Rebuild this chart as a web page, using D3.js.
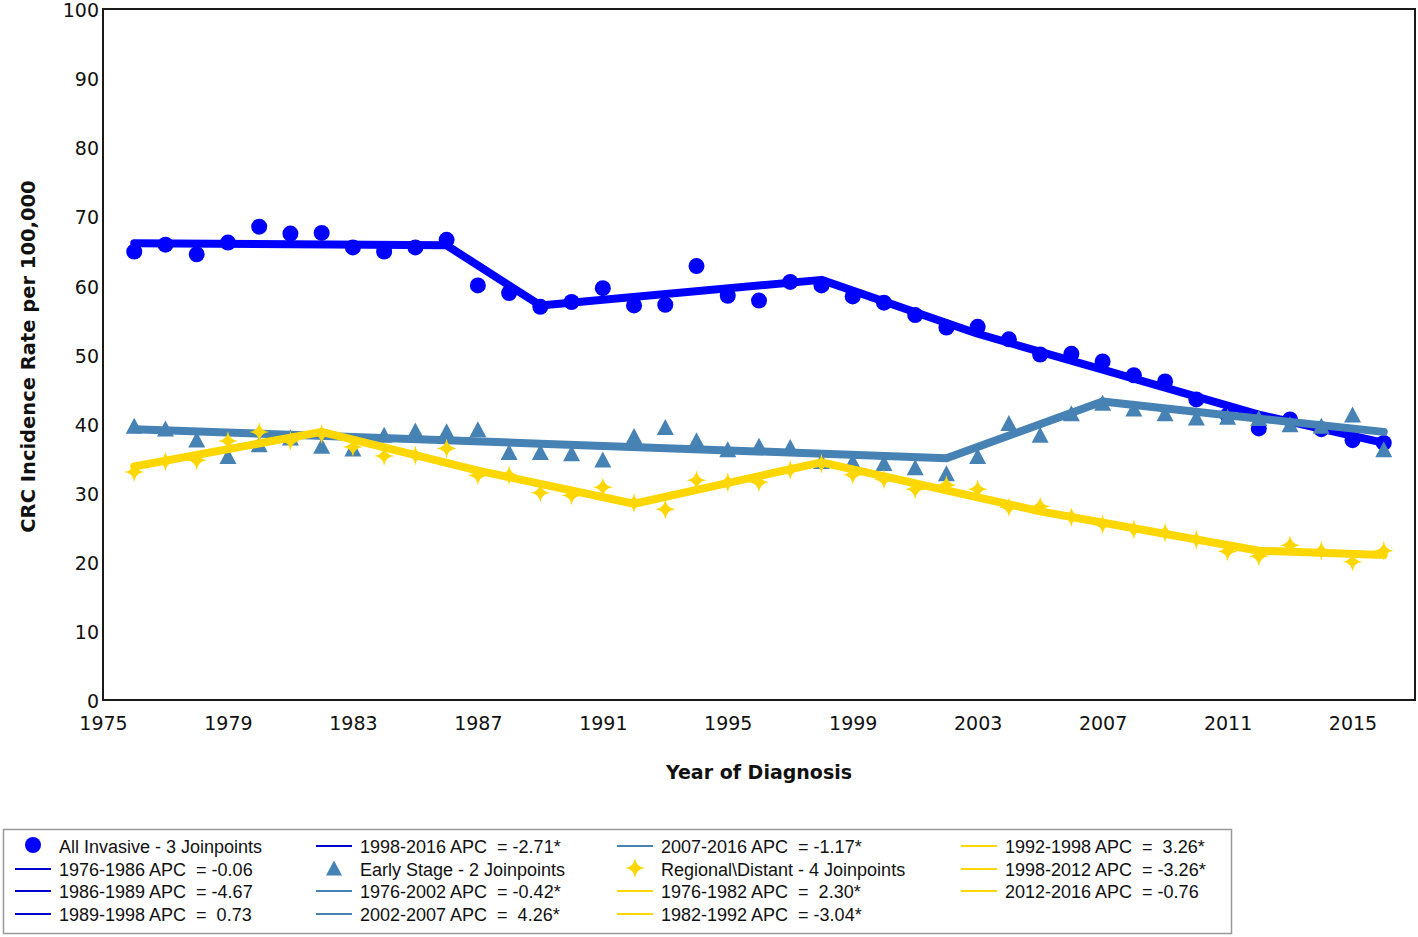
<!DOCTYPE html>
<html>
<head>
<meta charset="utf-8">
<script src="https://cdn.jsdelivr.net/npm/d3@7"></script>
<style>
  html, body { margin: 0; padding: 0; background: #fff; }
  svg { display: block; }
  text { white-space: pre; }
</style>
</head>
<body>
<svg id="chart" width="1418" height="937"></svg>
<script>
// ---------------- DATA ----------------
const years = [1976,1977,1978,1979,1980,1981,1982,1983,1984,1985,1986,1987,1988,1989,1990,1991,1992,1993,1994,1995,1996,1997,1998,1999,2000,2001,2002,2003,2004,2005,2006,2007,2008,2009,2010,2011,2012,2013,2014,2015,2016];

const allInvasive = [64.9,65.9,64.5,66.2,68.5,67.5,67.6,65.5,64.9,65.5,66.6,60.0,58.9,56.9,57.6,59.6,57.1,57.2,62.8,58.5,57.8,60.5,60.0,58.4,57.5,55.7,53.9,54.0,52.2,50.0,50.1,49.0,47.0,46.1,43.5,41.2,39.3,40.6,39.2,37.6,37.2];
const earlyStage = [39.7,39.3,37.7,35.3,37.0,38.0,36.8,36.4,38.4,39.0,38.9,39.2,35.9,35.9,35.7,34.8,38.2,39.5,37.6,36.3,36.8,36.6,34.6,34.5,34.3,33.7,32.8,35.3,40.1,38.4,41.5,43.0,42.2,41.5,40.9,41.0,40.8,39.9,39.7,41.3,36.3];
const regionalDistant = [33.0,34.5,34.7,37.5,38.8,37.5,38.5,36.6,35.3,35.4,36.4,32.5,32.5,30.0,29.6,30.8,28.5,27.6,31.8,31.5,31.5,33.3,34.2,32.6,31.9,30.5,31.1,30.5,27.9,28.0,26.5,25.4,24.7,24.2,23.2,21.5,20.8,22.4,21.6,20.0,21.6];

// Joinpoint fitted values (knots)
const fitAllYears  = [1976,1986,1989,1998,2003,2007,2012,2016];
const fitAllValues = [66.1,65.8,57.1,60.8,53.0,47.8,41.3,37.2];
const fitEarlyYears  = [1976,1989,2002,2007,2011,2016];
const fitEarlyValues = [39.2,37.1,35.0,43.2,41.2,38.8];
const fitRegYears  = [1976,1982,1987,1992,1998,2005,2012,2016];
const fitRegValues = [33.8,38.8,33.2,28.4,34.4,27.3,21.6,21.0];

const xTicks = [1975,1979,1983,1987,1991,1995,1999,2003,2007,2011,2015];
const yTicks = [0,10,20,30,40,50,60,70,80,90,100];

const xTitle = "Year of Diagnosis";
const yTitle = "CRC Incidence Rate per 100,000";

// legend entries: [type, series, label], column-major, 4 rows per column
const legendItems = [
  ["circle","all","All Invasive - 3 Joinpoints"],
  ["line","allLine","1976-1986 APC  = -0.06"],
  ["line","allLine","1986-1989 APC  = -4.67"],
  ["line","allLine","1989-1998 APC  =  0.73"],
  ["line","allLine","1998-2016 APC  = -2.71*"],
  ["triangle","early","Early Stage - 2 Joinpoints"],
  ["line","early","1976-2002 APC  = -0.42*"],
  ["line","early","2002-2007 APC  =  4.26*"],
  ["line","early","2007-2016 APC  = -1.17*"],
  ["star","reg","Regional\\Distant - 4 Joinpoints"],
  ["line","reg","1976-1982 APC  =  2.30*"],
  ["line","reg","1982-1992 APC  = -3.04*"],
  ["line","reg","1992-1998 APC  =  3.26*"],
  ["line","reg","1998-2012 APC  = -3.26*"],
  ["line","reg","2012-2016 APC  = -0.76"]
];

// ---------------- STYLE ----------------
const colors = { all: "#0000FF", allLine: "#0000CD", early: "#4682B4", reg: "#FFD700" };
const plot = { left: 103, right: 1415, top: 9, bottom: 700 };

const svg = d3.select("#chart");
const x = d3.scaleLinear().domain([1975, 2017]).range([plot.left, plot.right]);
const y = d3.scaleLinear().domain([0, 100]).range([plot.bottom, plot.top]);

const tickFont = "'DejaVu Sans', Verdana, sans-serif";

// axes
const xAxis = d3.axisBottom(x).tickValues(xTicks).tickFormat(d3.format("d")).tickSize(0).tickPadding(17);
const gx = svg.append("g").attr("transform", `translate(0,${plot.bottom})`).call(xAxis);
gx.select(".domain").remove();
gx.selectAll("text").attr("font-family", tickFont).attr("font-size", 19).attr("fill", "#111")
  .attr("transform", "scale(1,1)");

const yAxis = d3.axisLeft(y).tickValues(yTicks).tickSize(0).tickPadding(4);
const gy = svg.append("g").attr("transform", `translate(${plot.left},0)`).call(yAxis);
gy.select(".domain").remove();
gy.selectAll("text").attr("font-family", tickFont).attr("font-size", 19).attr("fill", "#111")
  .attr("dy", "0.4em");

// frame
svg.append("rect")
  .attr("x", plot.left).attr("y", plot.top)
  .attr("width", plot.right - plot.left).attr("height", plot.bottom - plot.top)
  .attr("fill", "none").attr("stroke", "#1a1a1a").attr("stroke-width", 2);

// titles
svg.append("text").attr("x", 759).attr("y", 779).attr("text-anchor", "middle")
  .attr("font-family", tickFont).attr("font-weight", "bold").attr("font-size", 19).attr("fill", "#111")
  .text(xTitle);
svg.append("text").attr("transform", `translate(35,${(plot.top + plot.bottom) / 2 + 2}) rotate(-90)`)
  .attr("text-anchor", "middle")
  .attr("font-family", tickFont).attr("font-weight", "bold").attr("font-size", 19.5).attr("fill", "#111")
  .text(yTitle);

// marker shapes
function starPath(r) {
  const i = r * 0.28;
  return `M0,${-r} Q${i*0.4},${-i*0.4} ${r},0 Q${i*0.4},${i*0.4} 0,${r} Q${-i*0.4},${i*0.4} ${-r},0 Q${-i*0.4},${-i*0.4} 0,${-r}Z`;
}
function triPath(h, w) {
  return `M0,${-h/2} L${w/2},${h/2} L${-w/2},${h/2}Z`;
}

const lineGen = d3.line().x(d => x(d[0])).y(d => y(d[1]));

function drawSeries(values, fitYears, fitValues, color, marker) {
  const g = svg.append("g");
  const pts = years.map((yr, i) => [yr, values[i]]);
  if (marker === "circle") {
    g.selectAll("circle").data(pts).enter().append("circle")
      .attr("cx", d => x(d[0])).attr("cy", d => y(d[1])).attr("r", 8).attr("fill", color);
  } else if (marker === "triangle") {
    g.selectAll("path.m").data(pts).enter().append("path").attr("class", "m")
      .attr("d", triPath(16, 17))
      .attr("transform", d => `translate(${x(d[0])},${y(d[1])})`).attr("fill", color);
  } else {
    g.selectAll("path.m").data(pts).enter().append("path").attr("class", "m")
      .attr("d", starPath(10))
      .attr("transform", d => `translate(${x(d[0])},${y(d[1])})`).attr("fill", color);
  }
  const fit = fitYears.map((yr, i) => [yr, fitValues[i]]);
  g.append("path").datum(fit).attr("d", lineGen)
    .attr("fill", "none").attr("stroke", color).attr("stroke-width", 8)
    .attr("stroke-linejoin", "round").attr("stroke-linecap", "round");
}

drawSeries(allInvasive, fitAllYears, fitAllValues, colors.all, "circle");
drawSeries(earlyStage, fitEarlyYears, fitEarlyValues, colors.early, "triangle");
drawSeries(regionalDistant, fitRegYears, fitRegValues, colors.reg, "star");

// legend
const legend = svg.append("g");
legend.append("rect").attr("x", 3.5).attr("y", 829.5).attr("width", 1228).attr("height", 104)
  .attr("fill", "#fff").attr("stroke", "#999").attr("stroke-width", 1.5);
const colX = [15, 316, 617, 961];
const rowY = [846, 869, 891, 914];
const lineLen = 36, textOff = 44;
legendItems.forEach((it, idx) => {
  const c = Math.floor(idx / 4), r = idx % 4;
  const lx = colX[c], ly = rowY[r];
  const col = colors[it[1]];
  const mx = lx + lineLen / 2;
  if (it[0] === "line") {
    legend.append("line").attr("x1", lx).attr("x2", lx + lineLen).attr("y1", ly).attr("y2", ly)
      .attr("stroke", col).attr("stroke-width", 1.8);
  } else if (it[0] === "circle") {
    legend.append("circle").attr("cx", mx).attr("cy", ly - 1).attr("r", 8).attr("fill", col);
  } else if (it[0] === "triangle") {
    legend.append("path").attr("d", triPath(15, 16)).attr("transform", `translate(${mx},${ly - 1})`).attr("fill", col);
  } else {
    legend.append("path").attr("d", starPath(10)).attr("transform", `translate(${mx},${ly - 1})`).attr("fill", col);
  }
  legend.append("text").attr("x", lx + textOff).attr("y", ly + 6.5)
    .attr("font-family", "'Liberation Sans', Arial, sans-serif").attr("font-size", 18).attr("fill", "#111")
    .text(it[2]);
});
</script>
</body>
</html>
